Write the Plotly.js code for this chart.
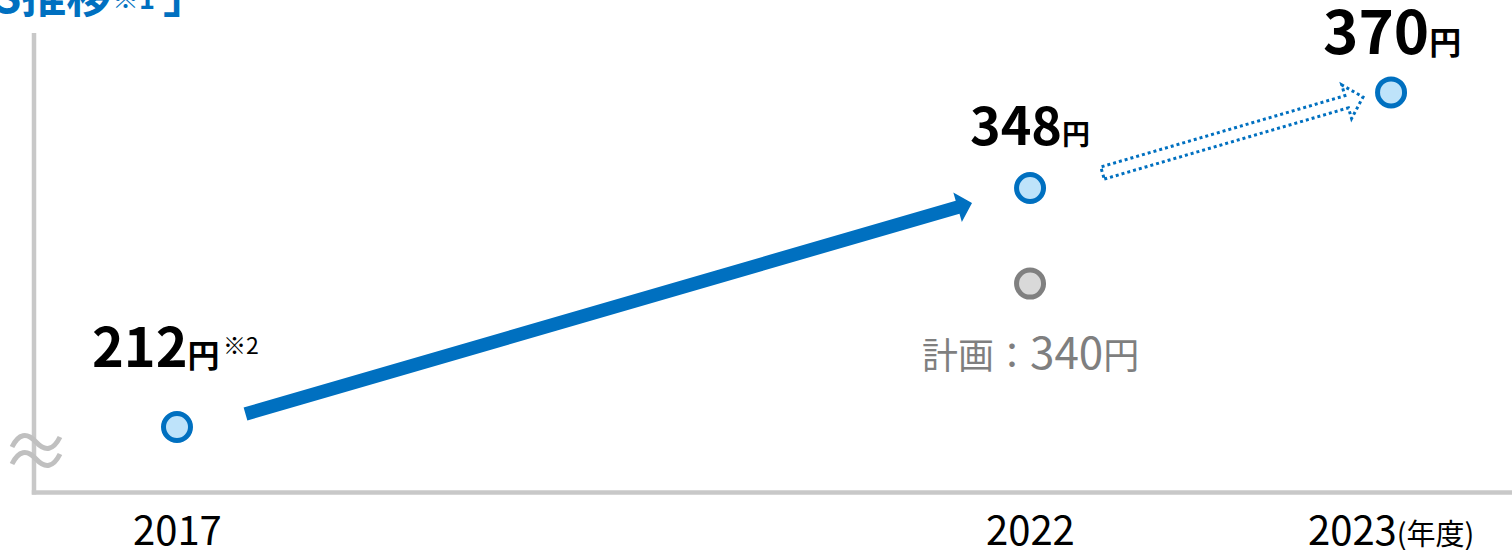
<!DOCTYPE html>
<html>
<head>
<meta charset="utf-8">
<script src="https://cdn.plot.ly/plotly-3.0.1.min.js"></script>
<style>
  html, body { margin: 0; padding: 0; background: #ffffff; }
  #chart { width: 1512px; height: 550px; }
</style>
</head>
<body>
<div id="chart"></div>
<script>
// ---- data ----
const years = ['2017', '2022', '2023'];
const epsActual = [212, 348, 370];
const planYears = ['2022'];
const epsPlan = [340];
const tickLabels = ['2017', '2022', '2023'];
const tickUnit = '(年度)';
const unit = '円';
const planLabel = '計画：';
const titleText = '「EPS推移';
const titleEnd = '」';
const noteTitle = '※1';
const note212 = '※2';

// ---- helpers ----
const W = 1512, H = 550;
const px = x => x / W;
const py = y => 1 - y / H;
const toDate = y => y + '-01-01';

const FONT = '"Noto Sans CJK JP", "Noto Sans", sans-serif';
const BLUE = '#0070c0';

// y categories (ordinal display with an axis break)
const yCats = ['212', 'gap1', 'gap2', '340', 'gap3', '348', 'gap4', '370'];
const yIdx = v => yCats.indexOf(String(v));

function arrowPts(x0, y0, x1, y1, hw, hl, hh) {
  const dx = x1 - x0, dy = y1 - y0, L = Math.hypot(dx, dy);
  const ux = dx / L, uy = dy / L, nx = -uy, ny = ux;
  const bx = x1 - ux * hl, by = y1 - uy * hl;
  return [[x0 + nx * hw, y0 + ny * hw], [bx + nx * hw, by + ny * hw], [bx + nx * hh, by + ny * hh],
          [x1, y1], [bx - nx * hh, by - ny * hh], [bx - nx * hw, by - ny * hw], [x0 - nx * hw, y0 - ny * hw]];
}
function pathOf(pts) {
  return 'M' + pts.map(p => px(p[0]).toFixed(5) + ',' + py(p[1]).toFixed(5)).join('L') + 'Z';
}
function wave(x0, y0) {
  return 'M' + px(x0) + ',' + py(y0 + 5) +
         'Q' + px(x0 + 10) + ',' + py(y0 - 15) + ' ' + px(x0 + 24) + ',' + py(y0) +
         'T' + px(x0 + 48) + ',' + py(y0 - 5);
}

const traces = [
  {
    type: 'scatter', mode: 'markers',
    x: years.map(toDate), y: epsActual.map(String),
    marker: { size: 27, color: '#bee3fa', line: { color: BLUE, width: 5 } },
    hoverinfo: 'skip', showlegend: false
  },
  {
    type: 'scatter', mode: 'markers',
    x: planYears.map(toDate), y: epsPlan.map(String),
    marker: { size: 27, color: '#d9d9d9', line: { color: '#808080', width: 5 } },
    hoverinfo: 'skip', showlegend: false
  }
];

const labelShift = [[-21, 84], [0, 66], [1, 65]];
const labelSize = [[54, 32], [52, 28], [60, 32]];
const annotations = [];
years.forEach((yr, i) => {
  annotations.push({
    x: toDate(yr), y: yIdx(epsActual[i]), xref: 'x', yref: 'y',
    text: '<b>' + epsActual[i] + '<span style="font-size:' + labelSize[i][1] + 'px">' + unit + '</span></b>',
    showarrow: false, xanchor: 'center', yanchor: 'middle',
    xshift: labelShift[i][0], yshift: labelShift[i][1],
    font: { family: FONT, size: labelSize[i][0], color: '#000000' }
  });
});
annotations.push({
  x: toDate(years[0]), y: yIdx(epsActual[0]), xref: 'x', yref: 'y',
  text: note212, showarrow: false, xanchor: 'left', yanchor: 'middle',
  xshift: 44, yshift: 83,
  font: { family: FONT, size: 23, color: '#000000' }
});
annotations.push({
  x: toDate(planYears[0]), y: yIdx(epsPlan[0]), xref: 'x', yref: 'y',
  text: planLabel + '<span style="font-size:44px">' + epsPlan[0] + '</span>' + unit,
  showarrow: false, xanchor: 'center', yanchor: 'middle', yshift: -66,
  font: { family: FONT, size: 36, color: '#7f7f7f' }
});
years.forEach((yr, i) => {
  annotations.push({
    x: toDate(yr), y: py(528), xref: 'x', yref: 'paper',
    text: tickLabels[i] + (i === years.length - 1 ? '<span style="font-size:29px">' + tickUnit + '</span>' : ''),
    showarrow: false, xanchor: 'center', yanchor: 'middle',
    font: { family: FONT, size: 40, color: '#000000' }
  });
});
// title (cropped at the top-left edge)
annotations.push({
  x: px(113), y: py(-6), xref: 'paper', yref: 'paper',
  text: '<b>' + titleText + '</b>',
  showarrow: false, xanchor: 'right', yanchor: 'middle',
  font: { family: FONT, size: 45, color: BLUE }
});
annotations.push({
  x: px(110), y: py(-3), xref: 'paper', yref: 'paper',
  text: '<b>' + noteTitle + '</b>',
  showarrow: false, xanchor: 'left', yanchor: 'middle',
  font: { family: FONT, size: 27, color: BLUE }
});
annotations.push({
  x: px(161), y: py(-6), xref: 'paper', yref: 'paper',
  text: '<b>' + titleEnd + '</b>',
  showarrow: false, xanchor: 'left', yanchor: 'middle',
  font: { family: FONT, size: 45, color: BLUE }
});

const shapes = [
  { type: 'line', xref: 'paper', yref: 'paper', x0: px(34), x1: px(34), y0: py(33), y1: py(494.5),
    line: { color: '#c8c8c8', width: 4.5 } },
  { type: 'line', xref: 'paper', yref: 'paper', x0: px(31.8), x1: px(1512), y0: py(492.5), y1: py(492.5),
    line: { color: '#c8c8c8', width: 4.5 } },
  { type: 'path', xref: 'paper', yref: 'paper', path: wave(12, 442), line: { color: '#c0c0c0', width: 5 } },
  { type: 'path', xref: 'paper', yref: 'paper', path: wave(12, 459), line: { color: '#c0c0c0', width: 5 } },
  { type: 'path', xref: 'paper', yref: 'paper',
    path: pathOf(arrowPts(245.5, 414, 972, 203, 6.75, 15, 15.3)),
    fillcolor: BLUE, line: { width: 0 } },
  { type: 'path', xref: 'paper', yref: 'paper',
    path: pathOf(arrowPts(1102.5, 173, 1363, 97, 6.3, 17, 17.5)),
    fillcolor: 'rgba(0,0,0,0)', line: { color: BLUE, width: 3, dash: 'dot' } }
];

const layout = {
  width: W, height: H,
  margin: { l: 0, r: 0, t: 0, b: 0, pad: 0 },
  paper_bgcolor: '#ffffff', plot_bgcolor: '#ffffff',
  showlegend: false,
  xaxis: {
    type: 'date',
    range: ['2016-07-06 01:00', '2023-05-03 07:00'],
    rangebreaks: [{ bounds: ['2018-01-01', '2020-08-21 12:00'] }],
    showgrid: false, zeroline: false, showline: false, showticklabels: false, ticks: '', fixedrange: true
  },
  yaxis: {
    type: 'category', categoryorder: 'array', categoryarray: yCats,
    range: [-2.573, 8.933],
    showgrid: false, zeroline: false, showline: false, showticklabels: false, ticks: '', fixedrange: true
  },
  annotations: annotations,
  shapes: shapes
};

Plotly.newPlot('chart', traces, layout, { staticPlot: true, displayModeBar: false });
</script>
</body>
</html>
